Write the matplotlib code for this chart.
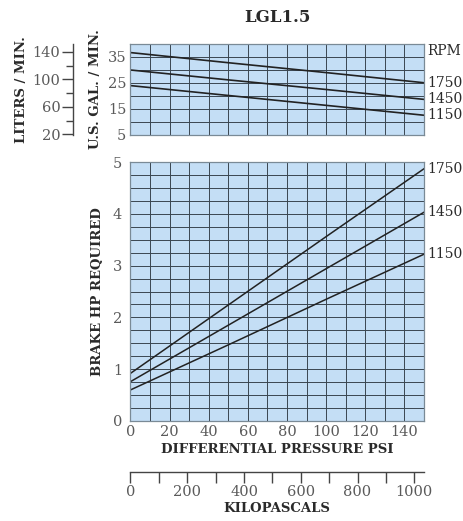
import matplotlib
matplotlib.use("Agg")
import matplotlib.pyplot as plt
from matplotlib.ticker import MultipleLocator, FixedLocator

# data
psi = [0, 50, 100, 150]
rpm_labels = ["1750", "1450", "1150"]
flow_gpm = {
    "1750": [36.7, 32.8, 29.0, 25.1],
    "1450": [30.0, 26.2, 22.5, 18.7],
    "1150": [24.0, 20.2, 16.4, 12.6],
}
brake_hp = {
    "1750": [0.92, 2.24, 3.56, 4.87],
    "1450": [0.76, 1.85, 2.94, 4.03],
    "1150": [0.60, 1.47, 2.35, 3.22],
}
flow_ticks = [5, 15, 25, 35]
liters_ticks = [20, 60, 100, 140]
hp_ticks = [0, 1, 2, 3, 4, 5]
psi_ticks = [0, 20, 40, 60, 80, 100, 120, 140]
kpa_ticks = [0, 200, 400, 600, 800, 1000]

GAL_TO_L = 3.785
PSI_TO_KPA = 6.895

FILL = "#c4def5"
GRID = "#3a4650"
NUM = "#5a5a5a"
LAB = "#2a2a2a"
SERIF = "DejaVu Serif"

W, H = 464, 521
fig = plt.figure(figsize=(W / 100, H / 100), dpi=100)


def box(x0, y0, x1, y1):
    # pixel box -> figure fraction
    return [x0 / W, 1 - y1 / H, (x1 - x0) / W, (y1 - y0) / H]


def grid_panel(ax, ymin, ymax, ystep):
    ax.set_facecolor(FILL)
    ax.set_xlim(0, 150)
    ax.set_ylim(ymin, ymax)
    ax.xaxis.set_minor_locator(MultipleLocator(10))
    ax.yaxis.set_minor_locator(MultipleLocator(ystep))
    ax.grid(which="both", color=GRID, linewidth=0.7)
    ax.set_axisbelow(True)
    for s in ax.spines.values():
        s.set_color("#7a8a96")
        s.set_linewidth(0.9)
    ax.tick_params(which="both", length=0, colors=NUM, labelsize=10.5)
    for lab in ax.get_xticklabels() + ax.get_yticklabels():
        lab.set_family(SERIF)


# flow panel
ax1 = fig.add_axes(box(130.5, 44, 424, 135))
grid_panel(ax1, 5, 40, 5)
for r in rpm_labels:
    ax1.plot(psi, flow_gpm[r], color="#222222", linewidth=1.2)
ax1.set_yticks(flow_ticks)
ax1.set_xticks([])
ax1.tick_params(axis="y", pad=3)
for lab in ax1.get_yticklabels():
    lab.set_family(SERIF)
ax1.set_ylabel("U.S. GAL. / MIN.", family=SERIF, fontweight="bold",
               fontsize=9.5, color=LAB, labelpad=4)
ax1.text(1.012, 1.0, "RPM", transform=ax1.transAxes, family=SERIF,
         fontsize=10, color=LAB, va="top", ha="left")
for r in rpm_labels:
    ax1.text(151.5, flow_gpm[r][-1], r, family=SERIF, fontsize=10,
             color=LAB, va="center", ha="left")

# liters scale
axl = fig.add_axes(box(73, 44, 73.5, 135))
axl.set_ylim(5 * GAL_TO_L, 40 * GAL_TO_L)
axl.set_xticks([])
for k in ["top", "right", "bottom"]:
    axl.spines[k].set_visible(False)
axl.spines["left"].set_color("#444444")
axl.spines["left"].set_linewidth(1.0)
axl.patch.set_alpha(0)
axl.yaxis.set_major_locator(FixedLocator(liters_ticks))
axl.yaxis.set_minor_locator(FixedLocator([40, 80, 120]))
axl.tick_params(axis="y", which="major", length=8, width=1.0, color="#444444",
                colors=NUM, labelsize=10.5, pad=1)
axl.tick_params(axis="y", which="minor", length=5, width=1.0, color="#444444")
for lab in axl.get_yticklabels():
    lab.set_family(SERIF)
axl.set_ylabel("LITERS / MIN.", family=SERIF, fontweight="bold",
               fontsize=9.5, color=LAB, labelpad=3)

# horsepower panel
ax2 = fig.add_axes(box(130.5, 162, 424, 421))
grid_panel(ax2, 0, 5, 0.25)
for r in rpm_labels:
    ax2.plot(psi, brake_hp[r], color="#222222", linewidth=1.1)
    ax2.text(151.5, brake_hp[r][-1], r, family=SERIF, fontsize=10,
             color=LAB, va="center", ha="left")
ax2.set_yticks(hp_ticks)
ax2.set_xticks(psi_ticks)
for lab in ax2.get_xticklabels() + ax2.get_yticklabels():
    lab.set_family(SERIF)
ax2.tick_params(axis="y", pad=6)
ax2.tick_params(axis="x", pad=3)
ax2.set_ylabel("BRAKE HP REQUIRED", family=SERIF, fontweight="bold",
               fontsize=9.5, color=LAB, labelpad=6)
ax2.set_xlabel("DIFFERENTIAL PRESSURE PSI", family=SERIF, fontweight="bold",
               fontsize=9.5, color=LAB, labelpad=3)

# kilopascal scale
axk = fig.add_axes(box(130.5, 471, 424, 471.5))
axk.set_xlim(0, 150 * PSI_TO_KPA)
axk.set_yticks([])
for k in ["top", "right", "left"]:
    axk.spines[k].set_visible(False)
axk.spines["bottom"].set_color("#444444")
axk.spines["bottom"].set_linewidth(1.0)
axk.patch.set_alpha(0)
axk.xaxis.set_major_locator(FixedLocator(kpa_ticks))
axk.xaxis.set_minor_locator(MultipleLocator(100))
axk.tick_params(axis="x", which="both", length=8, width=1.0, color="#444444",
                colors=NUM, labelsize=10.5, pad=2)
for lab in axk.get_xticklabels():
    lab.set_family(SERIF)
axk.set_xlabel("KILOPASCALS", family=SERIF, fontweight="bold",
               fontsize=9.5, color=LAB, labelpad=2)

fig.text(277 / W, 1 - 17 / H, "LGL1.5", family=SERIF, fontweight="bold",
         fontsize=12, color=LAB, ha="center", va="center")

fig.savefig("out.png", dpi=100)
